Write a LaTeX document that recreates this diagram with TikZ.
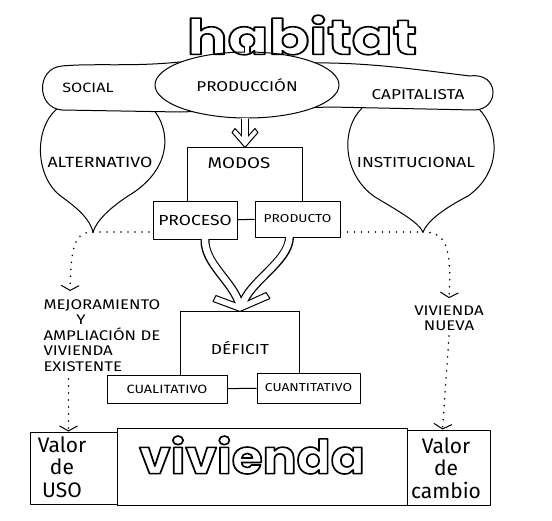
\documentclass[tikz,border=0pt]{standalone}
\usepackage{fontspec}
\setmainfont{Fira Sans}[FakeStretch=1.2]
\newfontfamily\handfont{Fira Sans}
\newfontfamily\roundfont{Poppins}
\usetikzlibrary{arrows.meta,shapes.geometric,calc}

% hollow bubble letters: glyphs stroked, not filled
\newcommand{\outlined}[3]{{\roundfont\bfseries\fontsize{#1}{#1}\selectfont
  \scalebox{#2}[1]{\special{pdf:literal direct q 1 Tr 1.6 w}#3\special{pdf:literal direct Q}}}}

\begin{document}
\begin{tikzpicture}[
    x=1pt, y=-1pt,
    line width=1pt,
    line join=round,
    lbl/.style={font=\fontsize{#1}{#1}\selectfont, inner sep=0pt},
    lbl/.default=14,
    box/.style={draw, fill=white},
    blob/.style={draw, fill=white},
    hand/.style={font=\handfont\fontsize{21}{22.5}\selectfont, align=center, inner sep=0pt},
    dots/.style={line width=1.8pt, line cap=round, dash pattern=on 0pt off 7pt},
    dotarrow/.style={dots, -{Straight Barb[length=5pt, width=18pt, line width=1pt]}},
    stemout/.style={line width=9pt},
    stemin/.style={white, line width=6.5pt},
    tipshape/.style={draw, fill=white, line width=1pt}
]
\useasboundingbox (0,0) rectangle (552,520);
\fill[white] (0,0) rectangle (552,520);

% --- the two drops hanging under the band ---
\path[blob] (58,108) .. controls (33,128) and (35,178) .. (62,197)
    .. controls (80,210) and (90,220) .. (93,232)
    .. controls (97,220) and (110,208) .. (128,196)
    .. controls (172,170) and (172,130) .. (152,108);
\coordinate (alttip) at (93,232);
\node[lbl=14.8] (alter) at (100,162) {ALTERNATIVO};

\path[blob] (362,108) .. controls (340,130) and (343,175) .. (375,197)
    .. controls (400,212) and (418,222) .. (423,232)
    .. controls (428,220) and (445,208) .. (468,196)
    .. controls (502,172) and (500,130) .. (478,108);
\coordinate (insttip) at (423,232);
\node[lbl=14.5] (inst) at (416,163) {INSTITUCIONAL};

% --- band behind the central ellipse ---
\path[blob] (180,62) .. controls (130,67) and (95,63) .. (62,66)
    .. controls (36,68) and (36,108) .. (62,110) -- (180,112) -- (330,107) -- (474,110)
    .. controls (500,110) and (500,72) .. (470,76)
    .. controls (420,70) and (380,64) .. (330,63) -- cycle;
\node[lbl=13.5] (social) at (88,88) {SOCIAL};
\node[lbl=14.3] (capital) at (418,95) {CAPITALISTA};

\node[draw, ellipse, fill=white, minimum width=184pt, minimum height=66pt, lbl=14.2] (prod) at (247,85) {PRODUCCIÓN};

% title
\node[inner sep=0pt] (habitat) at (302,35) {\outlined{49}{1.23}{habitat}};
\draw[stemout, line width=7pt] (prod.north) -- ([yshift=5pt]prod.north);
\draw[stemin, line width=4.5pt] ([yshift=-1pt]prod.north) -- ([yshift=6pt]prod.north);

% --- modos with its two halves ---
\node[minimum width=114pt, minimum height=52pt] (modosbox) at (245,174) {};
\node[lbl=15.6] (modos) at (239,163) {MODOS};
\draw (modosbox.south west) |- (modosbox.north east) -- (modosbox.south east);

\node[box, minimum width=84pt, minimum height=38pt, lbl=14.6] (proceso) at (195,220) {PROCESO};
\node[box, minimum width=85pt, minimum height=36pt, lbl=11.5] (producto) at (297.5,219) {PRODUCTO};
\draw (proceso) -- (producto);

% hollow arrow produccion -> modos
\draw[stemout, line width=8pt] (prod.south -| modosbox.north) -- ([yshift=7pt]modosbox.north);
\draw[tipshape] (modosbox.north) -- ++(-13,-15) -- ++(3,-4) -- ++(10,11) -- ++(10,-11) -- ++(3,4) -- cycle;
\draw[stemin, line width=5.5pt] ([yshift=1pt]prod.south -| modosbox.north) -- ([yshift=7.5pt]modosbox.north);

% --- deficit ---
\node[minimum width=118pt, minimum height=63pt] (defbox) at (240,343.5) {};
\node[lbl=14.5] (deficit) at (240,348) {DÉFICIT};
\draw (defbox.south west) |- (defbox.north east) -- (defbox.south east);

\node[box, minimum width=120pt, minimum height=28pt, lbl=12] (cuali) at (167,389) {CUALITATIVO};
\node[box, minimum width=103pt, minimum height=30pt, lbl=11.5] (cuanti) at (308.5,388) {CUANTITATIVO};
\draw (cuali) -- (cuanti);

% forked hollow arrow proceso/producto -> deficit
\draw[stemout] ([xshift=10pt]proceso.south) .. controls (204,264) and (234,282) .. (240,306);
\draw[stemout] ([xshift=-8pt]producto.south) .. controls (289,262) and (248,282) .. (242,306);
\draw[tipshape] (defbox.north) -- ++(-27,-10) -- ++(3,-6) -- ++(24,9) -- ++(26,-12) -- ++(4,6) -- cycle;
\draw[stemin] ([xshift=10pt,yshift=1pt]proceso.south) .. controls (204,264) and (234,282) .. (240,306);
\draw[stemin] ([xshift=-8pt,yshift=1pt]producto.south) .. controls (289,262) and (248,282) .. (242,306);

% --- side branches ---
\node[align=left, anchor=north west, inner sep=0pt, font=\fontsize{14}{15.5}\selectfont] (mejora) at (43,299)
    {MEJORAMIENTO\\\hspace*{33pt}Y\\AMPLIACIÓN DE\\VIVIENDA\\EXISTENTE};
\node[align=center, inner sep=0pt, font=\fontsize{14}{15}\selectfont] (nueva) at (449,318) {VIVIENDA\\NUEVA};

\draw[dots] (alttip) -- (alttip -| proceso.west);
\draw[dots] (producto.east |- insttip) -- (insttip);
\draw[dotarrow] (alttip) .. controls (75,232) and (71,245) .. ([xshift=27pt,yshift=8pt]mejora.north west);
\draw[dotarrow] (insttip) .. controls (445,232) and (452,245) .. ([yshift=7pt]nueva.north);

% --- vivienda row ---
\node[box, minimum width=290pt, minimum height=77pt] (vivienda) at (262,466.5) {};
\node[box, minimum width=87pt, minimum height=72pt] (uso) at (73.5,468) {};
\node[box, minimum width=83pt, minimum height=75pt] (cambio) at (448.5,467.5) {};
\node[inner sep=0pt] (vivtxt) at (252,455) {\outlined{47}{1.07}{vivienda}};
\node[hand] (usotxt) at (62,467) {Valor\\de\\USO};
\node[hand] (cambiotxt) at (446,468) {Valor\\de\\cambio};

\draw[dotarrow] ([xshift=-5pt,yshift=-7pt]uso.north |- mejora.south) -- ([xshift=-5pt]uso.north);
\draw[dotarrow] ([yshift=-5pt]nueva.south) -- ([xshift=-6pt]cambio.north);

\end{tikzpicture}
\end{document}
